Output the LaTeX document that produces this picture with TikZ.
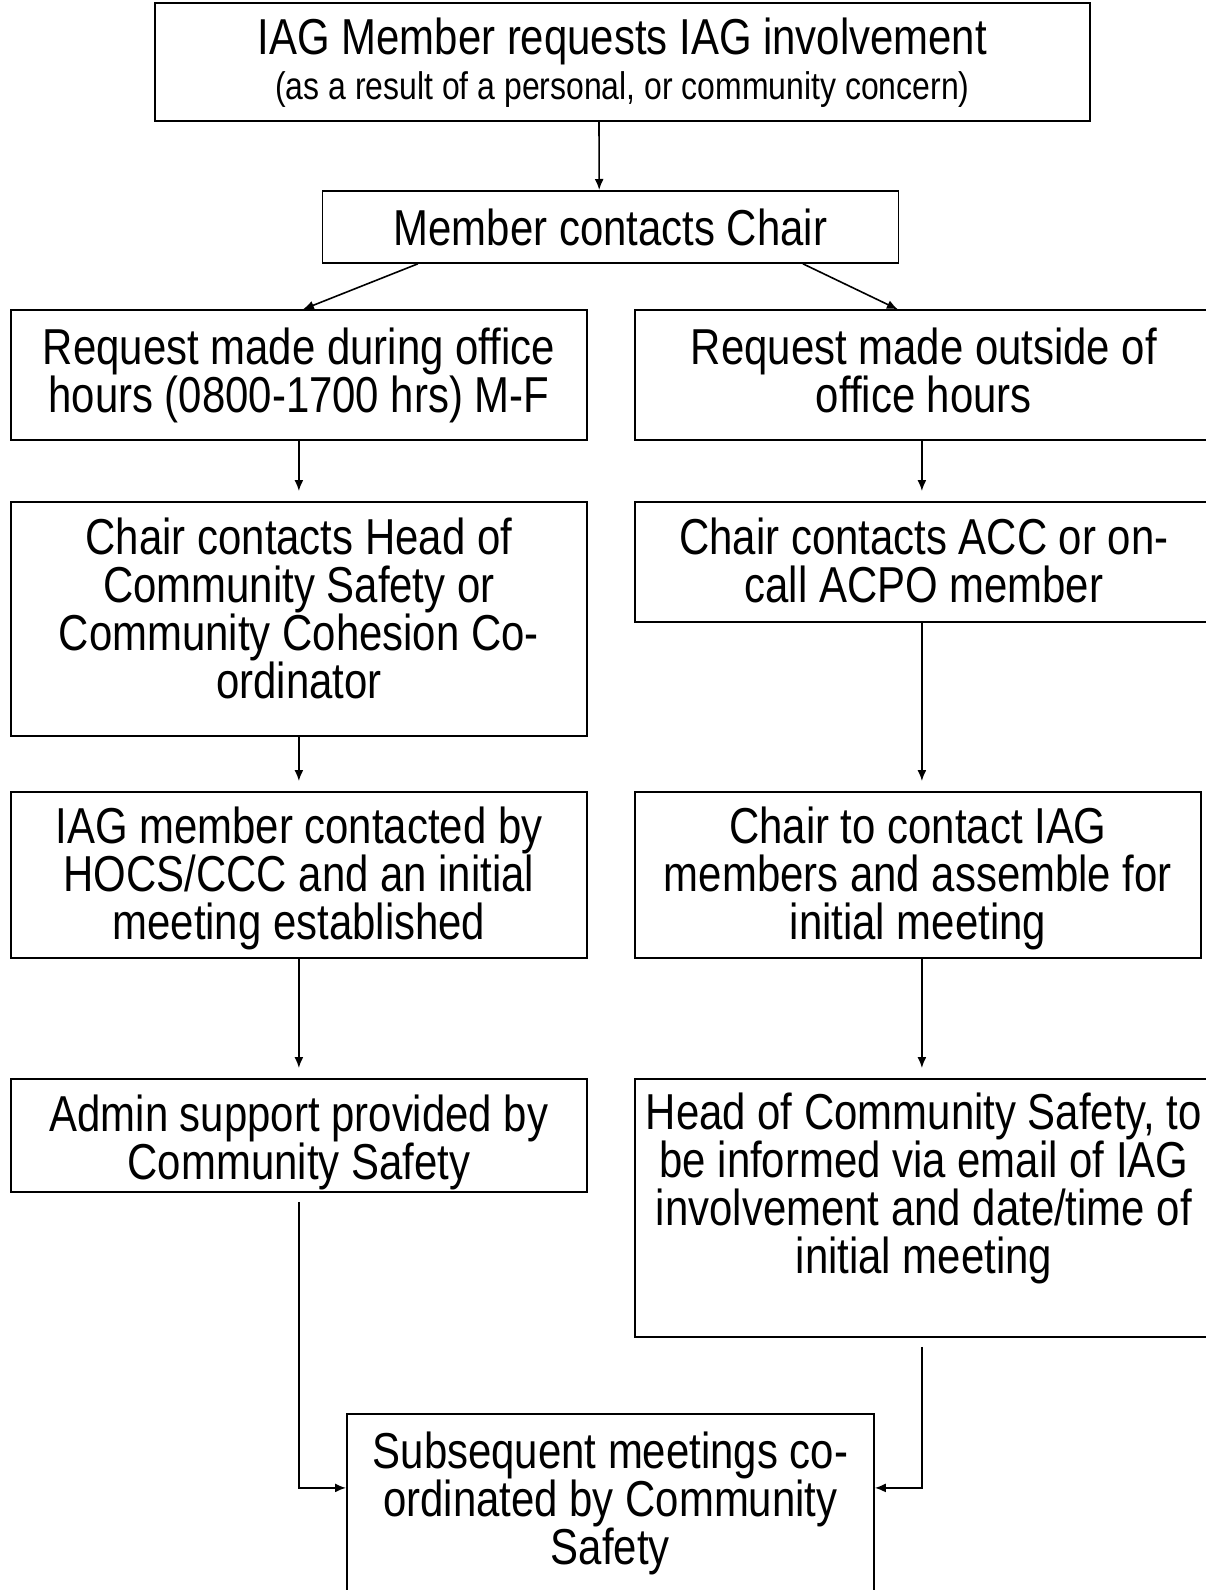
\documentclass[tikz,border=0pt]{standalone}
\usepackage{fontspec}
\setmainfont{Liberation Sans}[FakeStretch=0.83]
\usetikzlibrary{arrows.meta}
\newcommand{\bigtext}{\fontsize{50.5}{48}\selectfont}
\newcommand{\smalltext}{\fontsize{38.5}{44}\selectfont}
\tikzset{
    %Define standard arrow tip
    >={Latex[length=11pt,width=9pt]},
    %Define style for boxes
    block/.style={
           rectangle,
           draw=black,
           line width=1.8pt,
           anchor=north west,
           align=flush center,
           inner sep=0pt,
           text width=560pt,
           font=\bigtext},
    % Define arrow style
    arrow/.style={
           ->,
           line width=1.6pt},
    % arrow stopping short of the box
    gap arrow/.style={
           arrow,
           shorten >=10pt}
}
\begin{document}
\begin{tikzpicture}[x=1pt, y=-1pt]
    \useasboundingbox (0,0) rectangle (1205,1590);
    \node [block, text width=920pt, minimum width=935pt, text height=52pt, text depth=66pt] (request) at (154,2)
        {IAG Member requests IAG involvement\\[-3pt]{\smalltext (as a result of a personal, or community concern)}};
    \node [block, minimum width=576pt, text height=55pt, text depth=17pt] (contact) at (321.5,190)
        {Member contacts Chair};
    \node [block, minimum width=576pt, text height=54pt, text depth=76pt] (office) at (10,309.4)
        {Request made during office\\hours (0800-1700 hrs) M-F};
    \node [block, text width=575pt, minimum width=578pt, text height=54pt, text depth=76pt] (outside) at (634,309.4)
        {Request made outside of\\office hours};
    \node [block, minimum width=576pt, text height=53pt, text depth=181pt] (hocs) at (10,501)
        {Chair contacts Head of\\Community Safety or\\Community Cohesion Co-\\ordinator};
    \node [block, text width=575pt, minimum width=578pt, text height=53pt, text depth=67pt] (acc) at (634,501)
        {Chair contacts ACC or on-\\call ACPO member};
    \node [block, minimum width=576pt, text height=51.5pt, text depth=114.5pt] (met) at (10,791)
        {IAG member contacted by\\HOCS/CCC and an initial\\meeting established};
    \node [block, minimum width=566pt, text height=51.5pt, text depth=114.5pt] (assemble) at (634,791)
        {Chair to contact IAG\\members and assemble for\\initial meeting};
    \node [block, minimum width=576pt, text height=53pt, text depth=60pt] (admin) at (10,1078)
        {Admin support provided by\\Community Safety};
    \node [block, text width=575pt, minimum width=578pt, text height=51pt, text depth=207pt] (email) at (634,1078)
        {Head of Community Safety, to\\be informed via email of IAG\\involvement and date/time of\\initial meeting};
    \node [block, text width=520pt, minimum width=527pt, text height=55pt, text depth=132pt] (subseq) at (346,1413)
        {Subsequent meetings co-\\ordinated by Community\\Safety};

    \draw[arrow] ([xshift=-23.4pt]request.south) -- ([xshift=-11.2pt]contact.north);
    \draw[arrow] ([xshift=96.4pt]contact.south west) -- ([xshift=4pt]office.north);
    \draw[arrow] ([xshift=-96.4pt]contact.south east) -- ([xshift=-26pt]outside.north);
    \draw[gap arrow] (office.south) -- (hocs.north);
    \draw[gap arrow] ([xshift=-2pt]outside.south) -- ([xshift=-2pt]acc.north);
    \draw[gap arrow] (hocs.south) -- (met.north);
    \draw[gap arrow] ([xshift=-2pt]acc.south) -- ([xshift=-2pt]acc.south |- assemble.north);
    \draw[gap arrow] (met.south) -- (admin.north);
    \draw[gap arrow] ([xshift=-2pt]acc.south |- assemble.south) -- ([xshift=-2pt]email.north);
    \draw[arrow] ([yshift=-9pt]admin.south) |- ([yshift=19.5pt]subseq.west);
    \draw[arrow] ([xshift=-2pt,yshift=-9pt]email.south) |- ([yshift=19.5pt]subseq.east);
\end{tikzpicture}
\end{document}
